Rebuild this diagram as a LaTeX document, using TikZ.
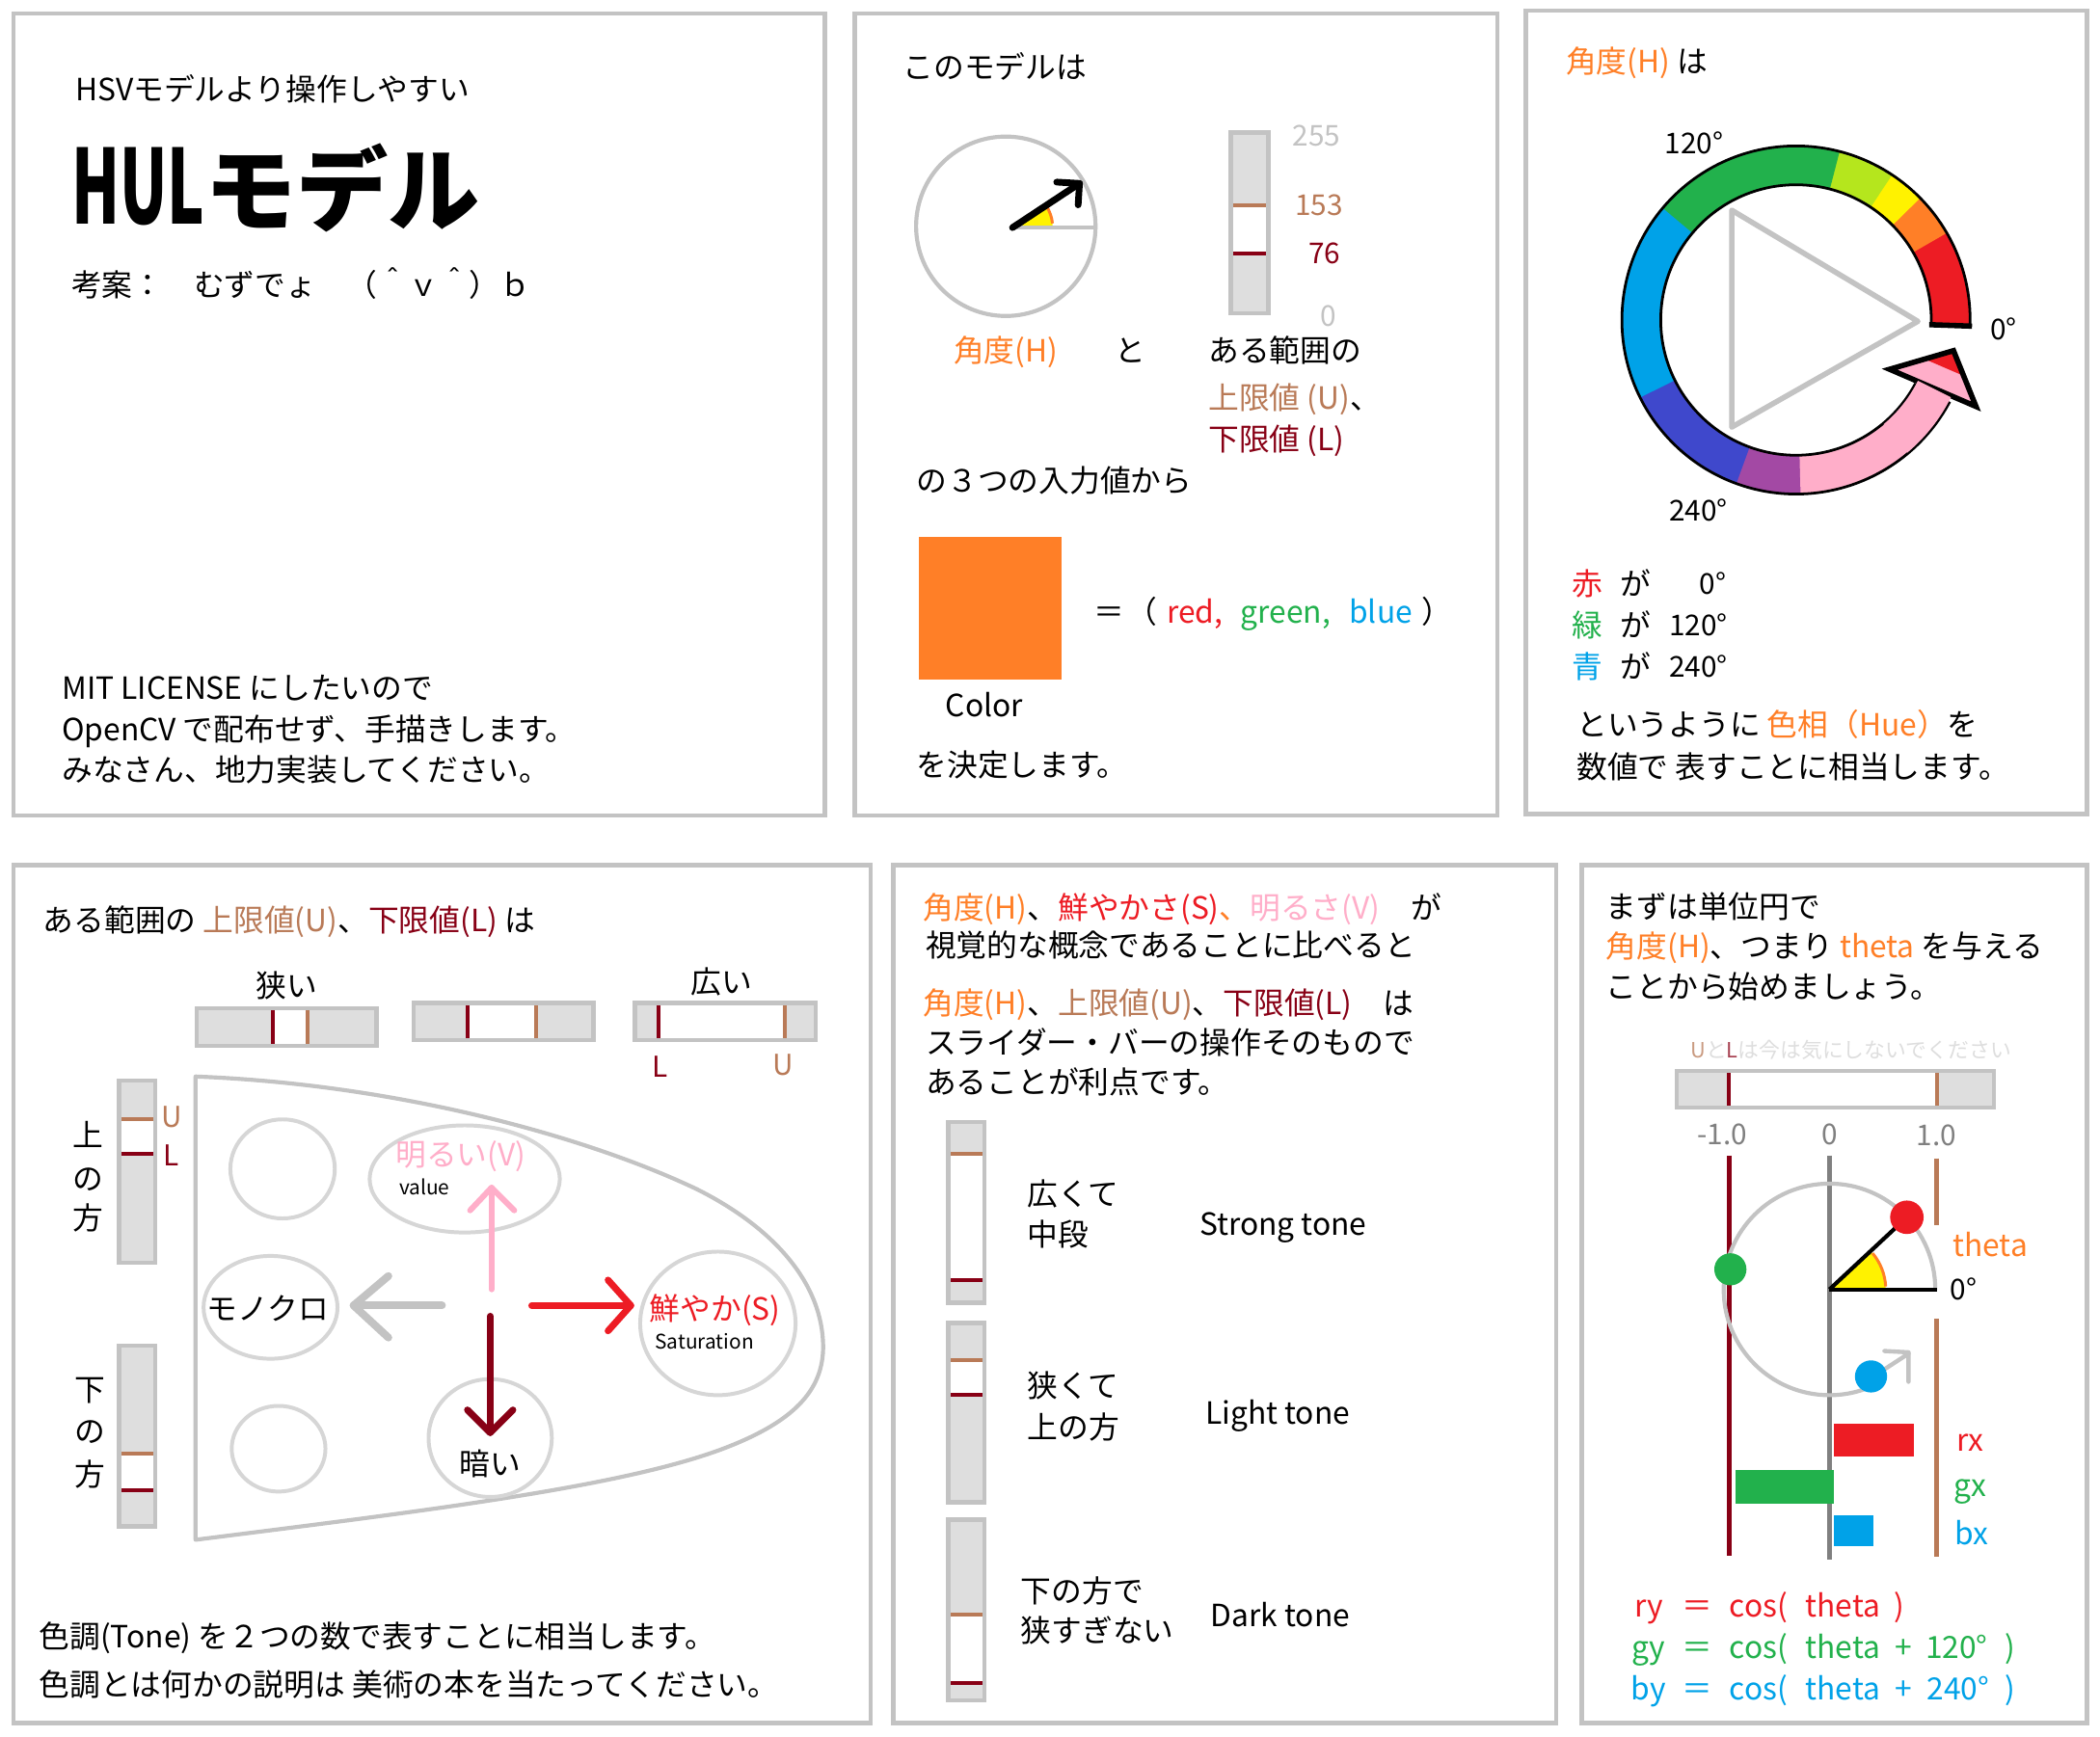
\documentclass[tikz,border=0pt]{standalone}
\usepackage{fontspec}
\setmainfont{Noto Sans CJK JP}
\usetikzlibrary{calc}
\definecolor{pgray}{HTML}{C3C3C3}
\definecolor{sgray}{HTML}{DEDEDE}
\definecolor{egray}{HTML}{D6D6D6}
\definecolor{cor}{HTML}{FF7F27}
\definecolor{cred}{HTML}{ED1C24}
\definecolor{cgreen}{HTML}{22B14C}
\definecolor{cblue}{HTML}{00A2E8}
\definecolor{cdred}{HTML}{880015}
\definecolor{cbrown}{HTML}{B97A57}
\definecolor{cpink}{HTML}{FFAEC9}
\definecolor{cyellow}{HTML}{FFF200}
\definecolor{cyg}{HTML}{B5E61D}
\definecolor{cindigo}{HTML}{3F48CC}
\definecolor{cpurple}{HTML}{A349A4}
\definecolor{dgray}{HTML}{808080}
\newcommand\vsl[6]{%
 \fill[sgray] (#1,#2) rectangle (#3,#4);
 \fill[white] (#1,#5) rectangle (#3,#6);
 \draw[cbrown, line width=2pt] (#1,#5) -- (#3,#5);
 \draw[cdred, line width=2pt] (#1,#6) -- (#3,#6);
 \draw[pgray, line width=2.2pt] (#1,#2) rectangle (#3,#4);}
\newcommand\hsl[6]{%
 \fill[sgray] (#1,#2) rectangle (#3,#4);
 \fill[white] (#5,#2) rectangle (#6,#4);
 \draw[cdred, line width=2pt] (#5,#2) -- (#5,#4);
 \draw[cbrown, line width=2pt] (#6,#2) -- (#6,#4);
 \draw[pgray, line width=2.2pt] (#1,#2) rectangle (#3,#4);}
\begin{document}
\begin{tikzpicture}[x=0.7pt,y=-0.7pt,
  panel/.style={draw=pgray, line width=2.4pt},
  t/.style={inner sep=0pt, font=\fontsize{16}{19}\selectfont, text height=14pt, text depth=2pt},
  tw/.style={t, anchor=west},
  num/.style={inner sep=0pt, font=\fontsize{15}{17}\selectfont, text height=13pt, text depth=2pt},
  small/.style={inner sep=0pt, font=\fontsize{10.5}{12}\selectfont, text height=9pt, text depth=1.5pt},
  shaft/.style={line width=3.5pt, line cap=round, line join=round}]
\useasboundingbox (0,0) rectangle (1568,1297);
\fill[white] (0,0) rectangle (1568,1297);
% panels
\draw[panel] (10,10) rectangle (616,609);
\draw[panel] (638,10) rectangle (1118,609);
\draw[panel] (1139,8) rectangle (1558,608);
\draw[panel] (10,646) rectangle (650,1287);
\draw[panel] (667,646) rectangle (1162,1287);
\draw[panel] (1181,646) rectangle (1558,1287);

% ---------- panel 1
\node[tw] (p1a) at (56,67) {HSVモデルより操作しやすい};
\node[inner sep=0pt, anchor=west, font=\fontsize{48}{50}\selectfont\bfseries] (p1b) at (53,140) {\scalebox{0.68}[1.12]{HUL}モデル};
\node[tw] (p1c) at (53,213) {考案：　むずでょ　（＾ｖ＾）ｂ};
\node[tw] (p1d) at (46,514) {MIT LICENSE にしたいので};
\node[tw] (p1e) at (46,545) {OpenCV で配布せず、手描きします。};
\node[tw] (p1f) at (46,575) {みなさん、地力実装してください。};

% ---------- panel 2
\node[tw] (p2a) at (674,50) {このモデルは};
\draw[pgray, line width=2.1pt] (751,169) circle (67);
\begin{scope}[shift={(756,170)}, yscale=-1]
  \fill[cyellow] (0,0) -- (0:30) arc[start angle=0, end angle=30, radius=30] -- cycle;
  \draw[cor, line width=1.5pt] (6:30) arc[start angle=6, end angle=32, radius=30];
  \draw[pgray, line width=2.1pt] (0,0) -- (62,0);
  \draw[shaft] (0,0) -- (50,33);
  \draw[shaft] (33,34) -- (50,33) -- (49,17);
\end{scope}
\vsl{919}{99}{947}{234}{153}{189}
\node[num, text=pgray] (n255) at (983,101) {255};
\node[num, text=cbrown] (n153) at (985,153) {153};
\node[num, text=cdred] (n76) at (989,189) {76};
\node[num, text=pgray] (n0) at (992,236) {0};
\node[t, text=cor] (p2h) at (751,262) {角度(H)};
\node[t] (p2to) at (844,262) {と};
\node[tw] (p2r1) at (902,262) {ある範囲の};
\node[tw, text=cbrown] (p2r2) at (902,297) {上限値 (U)\textcolor{black}{、}};
\node[tw, text=cdred] (p2r3) at (902,328) {下限値 (L)};
\node[tw] (p2m) at (684,359) {の３つの入力値から};
\node[fill=cor, inner sep=0pt, minimum width=74.2pt, minimum height=74.2pt, anchor=north west] (swatch) at (686,401) {};
\node[t] (eq) at (828,457) {＝};
\node[t] (lp) at (853,457) {（};
\node[t, text=cred] (tred) at (892,457) {red,};
\node[t, text=cgreen] (tgreen) at (960,457) {green,};
\node[t, text=cblue] (tblue) at (1031,457) {blue};
\node[t] (rp) at (1073,457) {）};
\node[t] (p2col) at (735,527) {Color};
\node[tw] (p2end) at (684,571) {を決定します。};

% ---------- panel 3
\node[tw] (p3a) at (1169,46) {\textcolor{cor}{角度(H)} は};
\begin{scope}[shift={(1341,239)}, yscale=-1]
  \foreach \a/\b/\c in {-2/30.5/cred, 30/45/cor, 44.5/57/cyellow, 56.5/76/cyg, 75.5/140.5/cgreen, 140/207/cblue, 206.5/250.5/cindigo, 250/272/cpurple, 271.5/332/cpink}
    \fill[\c] (\a:130) arc[start angle=\a, end angle=\b, radius=130] -- (\b:101) arc[start angle=\b, end angle=\a, radius=101] -- cycle;
  \draw[line width=1.4pt] (-2:130) arc[start angle=-2, end angle=332, radius=130];
  \draw[line width=1.4pt] (-2:101) arc[start angle=-2, end angle=332, radius=101];
  \draw[line width=2.8pt] (-2:99.5) -- (-2:131.5);
  \fill[cpink] (69.9,-36.8) -- (117.6,-22.9) -- (134.4,-64.6) -- cycle;
  \fill[cred] (117.6,-22.9) -- (96.1,-29.2) -- (125.2,-41.7) -- cycle;
  \draw[line width=2.8pt, line join=miter] (69.9,-36.8) -- (117.6,-22.9) -- (134.4,-64.6) -- cycle;
  \fill[cpink] (310:129.3) arc[start angle=310, end angle=333.5, radius=129.3] -- (333.5:101.7) arc[start angle=333.5, end angle=310, radius=101.7] -- cycle;
\end{scope}
\draw[pgray, line width=2.8pt, line join=round] (1293,157) -- (1432,240) -- (1293,319) -- cycle;
\node[num] (a120) at (1265,107) {120°};
\node[num] (a0) at (1496,246) {0°};
\node[num] (a240) at (1268,381) {240°};
\node[t, text=cred] (k1) at (1185,436) {赤};
\node[t] (g1) at (1221,436) {が};
\node[num] (v1) at (1279,436) {0°};
\node[t, text=cgreen] (k2) at (1185,467) {緑};
\node[t] (g2) at (1221,467) {が};
\node[num] (v2) at (1268,467) {120°};
\node[t, text=cblue] (k3) at (1185,498) {青};
\node[t] (g3) at (1221,498) {が};
\node[num] (v3) at (1268,498) {240°};
\node[tw] (p3b) at (1177,541) {というように \textcolor{cor}{色相（Hue）}を};
\node[tw] (p3c) at (1177,573) {数値で 表すことに相当します。};

% ---------- panel 4
\node[tw] (p4a) at (32,687) {ある範囲の \textcolor{cbrown}{上限値(U)}、\textcolor{cdred}{下限値(L)} は};
\node[t] (narrow) at (214,736) {狭い};
\node[t] (wide) at (539,733) {広い};
\hsl{147}{753}{281}{781}{204}{230}
\hsl{309}{749}{443}{777}{349}{400}
\hsl{474}{749}{609}{777}{492}{586}
\node[num, text=cdred] (hL) at (493,797) {L};
\node[num, text=cbrown] (hU) at (585,795) {U};
\vsl{89}{807}{116}{943}{835.5}{862}
\vsl{89}{1005}{116}{1140}{1085.5}{1112.7}
\node[num, text=cbrown] (vU) at (128,834) {U};
\node[num, text=cdred] (vL) at (128,863) {L};
\node[t] (u1) at (66,848) {上};
\node[t] (u2) at (66,880) {の};
\node[t] (u3) at (66,910) {方};
\node[t] (d1) at (67,1038) {下};
\node[t] (d2) at (67,1069) {の};
\node[t] (d3) at (67,1101) {方};
\draw[pgray, line width=2.1pt, line join=round] (146,804) .. controls (300,810) and (440,850) .. (520,888) .. controls (580,918) and (614,960) .. (614.6,1005) .. controls (615,1040) and (590,1062) .. (545,1080) .. controls (470,1110) and (320,1128) .. (146,1150) -- cycle;
\draw[egray, line width=2pt] (211,873) ellipse [x radius=39, y radius=37];
\draw[egray, line width=2pt] (347,880.5) ellipse [x radius=71, y radius=40];
\draw[egray, line width=2pt] (202,976.4) ellipse [x radius=50, y radius=38.4];
\draw[egray, line width=2pt] (536,988.4) ellipse [x radius=58, y radius=53.6];
\draw[egray, line width=2pt] (208,1082) ellipse [x radius=35, y radius=32];
\draw[egray, line width=2pt] (366,1074) ellipse [x radius=46, y radius=44];
\coordinate (o1) at (367,963);
\coordinate (o1t) at (367,887);
\draw[shaft, cpink, line width=3pt] (o1) -- (o1t);
\draw[shaft, cpink, line width=3pt] (351,904) -- (o1t) -- (384,904);
\coordinate (o2) at (330,975);
\coordinate (o2t) at (264,975);
\draw[shaft, pgray, line width=4pt] (o2) -- (o2t);
\draw[shaft, pgray, line width=4pt] (290,953) -- (o2t) -- (290,999);
\coordinate (o3) at (397,975);
\coordinate (o3t) at (471,975);
\draw[shaft, cred] (o3) -- (o3t);
\draw[shaft, cred] (454,956) -- (o3t) -- (454,994);
\coordinate (o4) at (366,983);
\coordinate (o4t) at (366,1070);
\draw[shaft, cdred] (o4) -- (o4t);
\draw[shaft, cdred] (349,1053) -- (o4t) -- (383,1053);
\node[t, text=cpink] (bright) at (344,862) {明るい(V)};
\node[small] (value) at (317,887) {value};
\node[t] (mono) at (200,977) {モノクロ};
\node[t, text=cred] (vivid) at (534,977) {鮮やか(S)};
\node[small] (satur) at (526,1002) {Saturation};
\node[t] (dark) at (366,1093) {暗い};
\node[tw] (p4b) at (29,1222) {色調(Tone) を２つの数で表すことに相当します。};
\node[tw] (p4c) at (29,1258) {色調とは何かの説明は 美術の本を当たってください。};

% ---------- panel 5
\node[tw] (p5a) at (689,678) {\textcolor{cor}{角度(H)}、\textcolor{cred}{鮮やかさ(S)}\textcolor{cor}{、}\textcolor{cpink}{明るさ(V)}　が};
\node[tw] (p5b) at (691,706) {視覚的な概念であることに比べると};
\node[tw] (p5c) at (689,749) {\textcolor{cor}{角度(H)}、\textcolor{cbrown}{上限値(U)}、\textcolor{cdred}{下限値(L)}　は};
\node[tw] (p5d) at (691,779) {スライダー・バーの操作そのもので};
\node[tw] (p5e) at (691,808) {あることが利点です。};
\vsl{708}{838}{735}{973}{862}{956}
\vsl{708}{988}{735}{1122}{1016}{1042}
\vsl{708}{1135}{735}{1270}{1206}{1257}
\node[tw] (s1a) at (767,892) {広くて};
\node[tw] (s1b) at (767,922) {中段};
\node[t] (s1c) at (958,914) {Strong tone};
\node[tw] (s2a) at (767,1035) {狭くて};
\node[tw] (s2b) at (767,1066) {上の方};
\node[t] (s2c) at (954,1055) {Light tone};
\node[tw] (s3a) at (762,1188) {下の方で};
\node[tw] (s3b) at (762,1218) {狭すぎない};
\node[t] (s3c) at (956,1206) {Dark tone};

% ---------- panel 6
\node[tw] (p6a) at (1199,677) {まずは単位円で};
\node[tw] (p6b) at (1199,707) {\textcolor{cor}{角度(H)}、つまり \textcolor{cor}{theta} を与える};
\node[tw] (p6c) at (1199,737) {ことから始めましょう。};
\node[inner sep=0pt, font=\fontsize{11}{12}\selectfont, text=pgray!55] (note) at (1382,784) {\textcolor{cbrown!75}{U}と\textcolor{cdred!75}{L}は今は気にしないでください};
\hsl{1252}{800}{1489}{827}{1291}{1446}
\node[num, text=dgray] (m1) at (1286,847) {-1.0};
\node[num, text=dgray] (z0) at (1366,847) {0};
\node[num, text=dgray] (p1) at (1446,848) {1.0};
\draw[cdred, line width=2.4pt] (1291,863) -- (1291,1162);
\draw[dgray, line width=2.8pt] (1366,863) -- (1366,1165);
\draw[cbrown, line width=2.4pt] (1446,865) -- (1446,915);
\draw[cbrown, line width=2.4pt] (1446,985) -- (1446,1163);
\begin{scope}[shift={(1366,963)}, yscale=-1]
  \draw[pgray, line width=2.1pt] (0:79) arc[start angle=0, end angle=296, radius=79];
  \fill[cyellow] (0,0) -- (0:42) arc[start angle=0, end angle=41, radius=42] -- cycle;
  \draw[cor, line width=1.5pt] (3:42) arc[start angle=3, end angle=40, radius=42];
  \draw[line width=2.1pt] (0,0) -- (80,0);
  \draw[line width=2.1pt] (0,0) -- (43:70);
  \fill[cred] (43:79) circle (12.5);
\end{scope}
\fill[cgreen] (1292,948) circle (12);
\draw[shaft, pgray, line width=2.2pt] (1405,1024) -- (1425,1011);
\draw[shaft, pgray, line width=2.2pt] (1407,1009) -- (1425,1010) -- (1425,1032);
\fill[cblue] (1397,1028) circle (12);
\fill[cred] (1369.5,1063) rectangle (1429,1088);
\fill[cgreen] (1296,1098) rectangle (1369.5,1123);
\fill[cblue] (1369.5,1131.5) rectangle (1399,1154.5);
\node[t, text=cor] (theta) at (1486,930) {theta};
\node[num] (deg0) at (1466,963) {0°};
\node[t, text=cred] (rx) at (1471,1075) {rx};
\node[t, text=cgreen] (gx) at (1471,1109) {gx};
\node[t, text=cblue] (bx) at (1472,1145) {bx};
\foreach \y/\c/\n [count=\i] in {1199/cred/ry, 1230/cgreen/gy, 1261/cblue/by}{
  \node[t, text=\c] (f\i a) at (1231,\y) {\n};
  \node[t, text=\c] (f\i b) at (1267,\y) {＝};
  \node[t, text=\c] (f\i c) at (1313,\y) {cos(};
  \node[t, text=\c] (f\i d) at (1376,\y) {theta};
}
\node[t, text=cred] (f1e) at (1418,1199) {)};
\node[t, text=cgreen] (f2e) at (1421,1230) {+};
\node[t, text=cgreen] (f2f) at (1461,1230) {120°};
\node[t, text=cgreen] (f2g) at (1501,1230) {)};
\node[t, text=cblue] (f3e) at (1421,1261) {+};
\node[t, text=cblue] (f3f) at (1462,1261) {240°};
\node[t, text=cblue] (f3g) at (1501,1261) {)};
\end{tikzpicture}
\end{document}
